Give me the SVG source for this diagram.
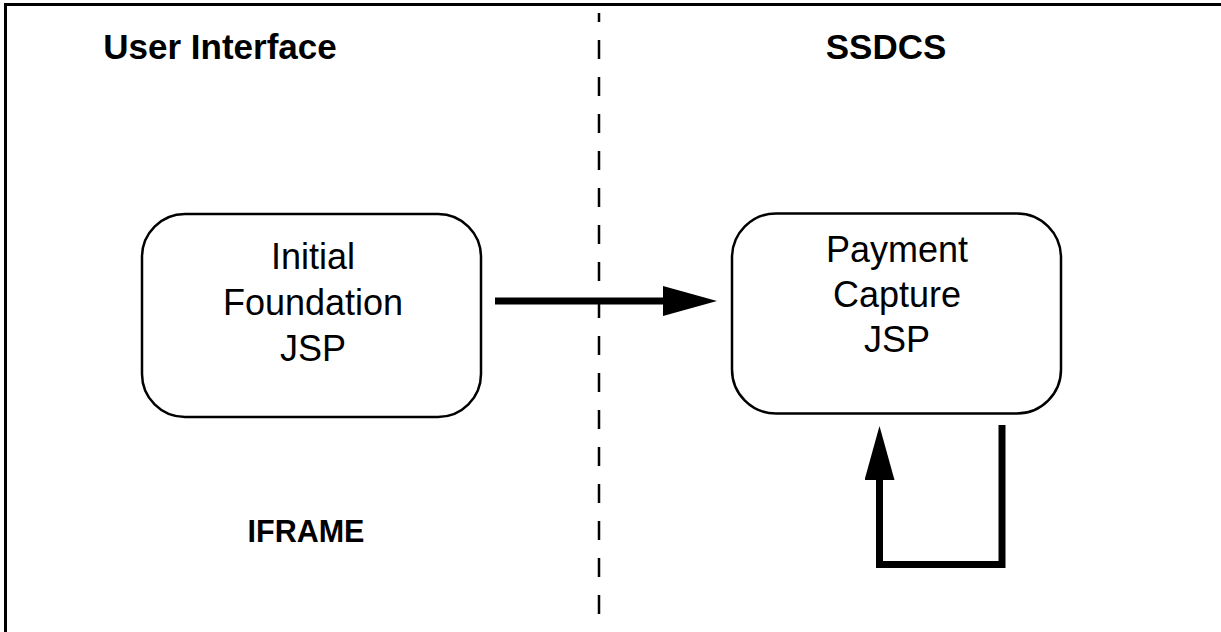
<svg xmlns="http://www.w3.org/2000/svg" width="1221" height="632" viewBox="0 0 1221 632">
  <style>
    .frame { fill: none; stroke: #000; stroke-width: 3; }
    .divider { stroke: #000; stroke-width: 2.5; stroke-dasharray: 19 18; fill: none; }
    .box { fill: #fff; stroke: #000; stroke-width: 2.5; }
    .label { font-family: "Liberation Sans", Arial, sans-serif; font-size: 36px; fill: #000; text-anchor: middle; }
    .head { font-family: "Liberation Sans", Arial, sans-serif; font-weight: bold; fill: #000; text-anchor: middle; }
    .flow { fill: none; stroke: #000; stroke-width: 7; stroke-linejoin: miter; }
  </style>
  <defs>
    <marker id="arrowhead" markerUnits="userSpaceOnUse" markerWidth="54" markerHeight="30" refX="0" refY="15" orient="auto">
      <path d="M0,0 L54,15 L0,30 Z" fill="#000"/>
    </marker>
  </defs>

  <rect width="1221" height="632" fill="#fff"/>

  <!-- outer frame: top and left edges only -->
  <path class="frame" d="M5.5,632 V4.5 H1221"/>

  <!-- lane divider -->
  <line class="divider" x1="599" y1="13" x2="599" y2="632" stroke-dashoffset="10"/>

  <!-- lane headings -->
  <text class="head" x="220" y="59" font-size="35">User Interface</text>
  <text class="head" x="886" y="59" font-size="35">SSDCS</text>
  <text class="head" x="306" y="542" font-size="30.5">IFRAME</text>

  <g id="initial-foundation-jsp">
    <rect class="box" x="142" y="214" width="339" height="203" rx="43" ry="43"/>
    <text class="label" x="313" y="269">Initial</text>
    <text class="label" x="313" y="315">Foundation</text>
    <text class="label" x="313" y="361">JSP</text>
  </g>

  <g id="payment-capture-jsp">
    <rect class="box" x="732" y="213.5" width="329" height="200" rx="44" ry="44"/>
    <text class="label" x="897" y="262">Payment</text>
    <text class="label" x="897" y="307">Capture</text>
    <text class="label" x="897" y="352">JSP</text>
  </g>

  <g id="connectors">
    <path class="flow" d="M495,301 H663" marker-end="url(#arrowhead)"/>
    <path class="flow" d="M1002,425 V564.5 H879.5 V480" marker-end="url(#arrowhead)"/>
  </g>
</svg>
